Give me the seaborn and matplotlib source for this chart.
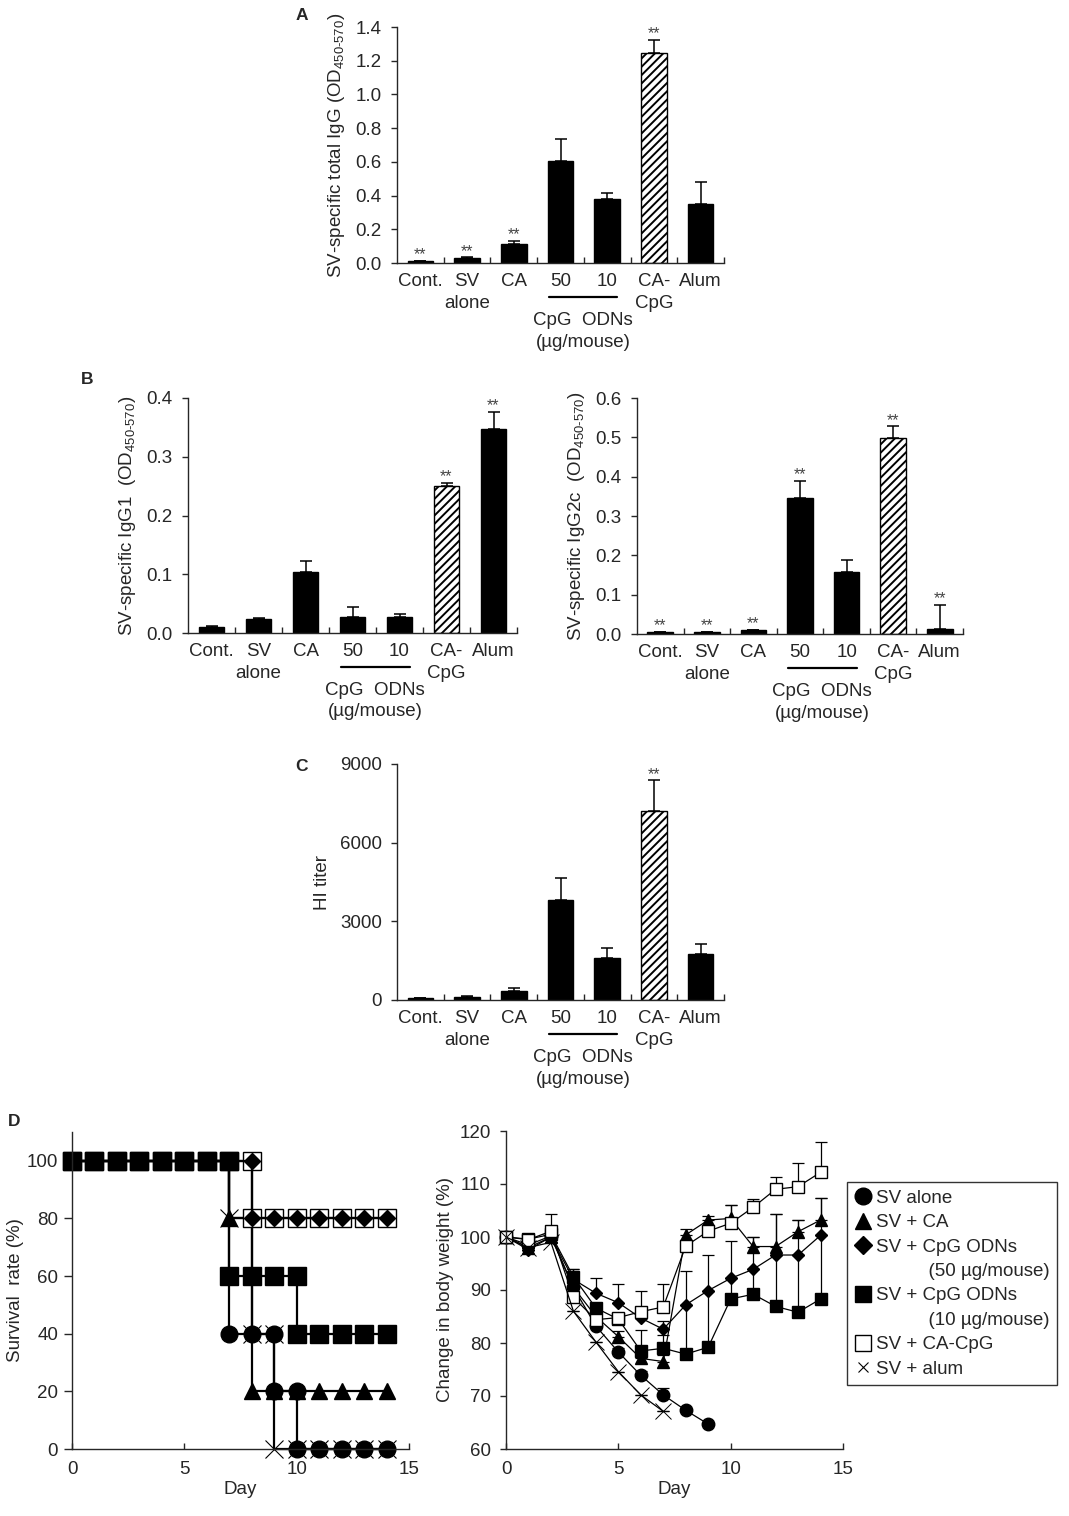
import numpy as np
import seaborn as sns
import matplotlib.pyplot as plt
from matplotlib.lines import Line2D
from matplotlib.ticker import FormatStrFormatter, MultipleLocator

sns.set_style("ticks")
plt.rcParams['font.family'] = ['Liberation Sans', 'DejaVu Sans']
plt.rcParams['mathtext.fontset'] = 'custom'
plt.rcParams['mathtext.rm'] = 'Liberation Sans'
plt.rcParams['hatch.linewidth'] = 1.4
plt.rcParams['axes.linewidth'] = 1.0
FS = 13.5

# ---- bar panels (A, B, C) ----
groups = ["Cont.", "SV\nalone", "CA", "50", "10", "CA-\nCpG", "Alum"]

igg_total = [0.01, 0.03, 0.115, 0.605, 0.38, 1.248, 0.352]
igg_total_err = [0.003, 0.003, 0.018, 0.128, 0.037, 0.077, 0.126]
igg_total_sig = [1, 1, 1, 0, 0, 1, 0]

igg1 = [0.010, 0.024, 0.104, 0.028, 0.028, 0.251, 0.347]
igg1_err = [0.002, 0.002, 0.019, 0.016, 0.005, 0.004, 0.029]
igg1_sig = [0, 0, 0, 0, 0, 1, 1]

igg2c = [0.006, 0.006, 0.010, 0.345, 0.158, 0.498, 0.012]
igg2c_err = [0.0, 0.0, 0.0, 0.045, 0.030, 0.030, 0.062]
igg2c_sig = [1, 1, 1, 1, 0, 1, 1]

hi_titer = [60, 120, 356, 3820, 1590, 7190, 1770]
hi_err = [10, 45, 114, 840, 408, 1186, 357]
hi_sig = [0, 0, 0, 0, 0, 1, 0]

# ---- survival (D left), step points as plotted ----
surv_sv_days = [0, 1, 2, 3, 4, 5, 6, 7, 7, 8, 9, 9, 10, 10, 11, 12, 13, 14]
surv_sv = [100, 100, 100, 100, 100, 100, 100, 100, 40, 40, 40, 20, 20, 0, 0, 0, 0, 0]
surv_ca_days = [0, 1, 2, 3, 4, 5, 6, 7, 7, 8, 8, 9, 10, 11, 12, 13, 14]
surv_ca = [100, 100, 100, 100, 100, 100, 100, 100, 80, 80, 20, 20, 20, 20, 20, 20, 20]
surv_cpg50_days = [0, 1, 2, 3, 4, 5, 6, 7, 8, 8, 9, 10, 11, 12, 13, 14]
surv_cpg50 = [100, 100, 100, 100, 100, 100, 100, 100, 100, 80, 80, 80, 80, 80, 80, 80]
surv_cpg10_days = [0, 1, 2, 3, 4, 5, 6, 7, 7, 8, 9, 10, 10, 11, 12, 13, 14]
surv_cpg10 = [100, 100, 100, 100, 100, 100, 100, 100, 60, 60, 60, 60, 40, 40, 40, 40, 40]
surv_cacpg_days = [0, 1, 2, 3, 4, 5, 6, 7, 8, 8, 9, 10, 11, 12, 13, 14]
surv_cacpg = [100, 100, 100, 100, 100, 100, 100, 100, 100, 80, 80, 80, 80, 80, 80, 80]
surv_alum_days = [0, 1, 2, 3, 4, 5, 6, 7, 7, 8, 8, 9, 9, 10, 11, 12, 13, 14]
surv_alum = [100, 100, 100, 100, 100, 100, 100, 100, 80, 80, 40, 40, 0, 0, 0, 0, 0, 0]

# ---- body weight (D right) ----
days_sv = [0, 1, 2, 3, 4, 5, 6, 7, 8, 9]
days_all = [0, 1, 2, 3, 4, 5, 6, 7, 8, 9, 10, 11, 12, 13, 14]
days_alum = [0, 1, 2, 3, 4, 5, 6, 7]
wt_sv = [100, 98.5, 100.2, 90.5, 83.2, 78.3, 73.9, 70.2, 67.3, 64.7]
wt_sv_err = [0, 0, 0, 1.0, 0, 0.8, 0.8, 1.4, 0, 0]
wt_ca = [100, 98, 100, 90.5, 85, 81.2, 77.1, 76.5, 100.4, 103.2, 103.5, 98.2, 98.2, 101, 103.2]
wt_ca_err = [0, 0, 0, 1, 1, 1, 1.2, 1.2, 1.2, 0.8, 2.5, 1.8, 6.1, 2.2, 4.2]
wt_cpg50 = [100, 97.6, 100, 92, 89.4, 87.6, 84.7, 82.6, 87.2, 89.9, 92.2, 93.9, 96.6, 96.6, 100.3]
wt_cpg50_err = [0, 0, 0, 2, 2.8, 3.5, 1.5, 1.5, 0, 0, 0, 0, 0, 0, 0]
wt_cpg10 = [100, 99.6, 100.5, 92.5, 86.6, 84.5, 78.5, 79, 77.9, 79.2, 88.3, 89.2, 86.9, 85.8, 88.3]
wt_cpg10_err = [0, 0, 0, 1.5, 0, 0, 4, 2.5, 15.7, 17.4, 11, 10.8, 17.4, 17.4, 19]
wt_cacpg = [100, 99.5, 101.1, 88.6, 84.4, 84.8, 85.9, 86.8, 98.3, 101.1, 102.6, 105.6, 109, 109.5, 112.2]
wt_cacpg_err = [0, 0, 3.2, 0, 0, 0, 3.9, 4.3, 1.2, 0, 3.4, 1.6, 2.3, 4.5, 5.8]
wt_alum = [100, 98, 99, 86, 80.2, 74.6, 70.2, 67.1]

W, H = 1069, 1516
fig = plt.figure(figsize=(W / 100, H / 100), dpi=100)


def px_axes(left, right, top, bottom):
    return fig.add_axes([left / W, 1 - bottom / H, (right - left) / W, (bottom - top) / H])


def bar_panel(ax, vals, errs, sig, ymax, step, ylabel, fmt):
    sns.barplot(x=groups, y=vals, color='black', width=0.55, errorbar=None, ax=ax,
                edgecolor='black', linewidth=1, saturation=1)
    hb = ax.patches[5]
    hb.set_facecolor('white')
    hb.set_hatch('////')
    ax.errorbar(range(7), vals, yerr=[np.zeros(7), errs], fmt='none', ecolor='black',
                elinewidth=1.1, capsize=4, capthick=1.1)
    for i, (v, e, s) in enumerate(zip(vals, errs, sig)):
        if s:
            ax.annotate('**', (i, v + e), xytext=(0, -1), textcoords='offset points',
                        ha='center', va='bottom', fontsize=11.5, color='#444444')
    ax.set_xlim(-0.5, 6.5)
    ax.set_ylim(0, ymax)
    ax.yaxis.set_major_locator(MultipleLocator(step))
    ax.yaxis.set_major_formatter(FormatStrFormatter(fmt))
    ax.set_xticks(range(7))
    ax.set_xticklabels(groups, linespacing=1.37, fontsize=FS)
    ax.set_xticks(np.arange(0.5, 7, 1), minor=True)
    ax.tick_params(axis='x', which='major', length=0, pad=7)
    ax.tick_params(axis='x', which='minor', direction='in', length=4, width=1)
    ax.tick_params(axis='y', direction='out', length=4, width=1, labelsize=FS, pad=7)
    ax.set_xlabel('')
    ax.set_ylabel(ylabel, fontsize=FS, labelpad=6)
    sns.despine(ax=ax)
    tr = ax.get_xaxis_transform()
    ax.plot([2.75, 4.22], [-0.145, -0.145], transform=tr, color='black', lw=1.6, clip_on=False)
    ax.text(3.48, -0.245, 'CpG  ODNs', transform=tr, ha='center', va='center', fontsize=FS)
    ax.text(3.48, -0.335, '(µg/mouse)', transform=tr, ha='center', va='center', fontsize=FS)


sub = r'$_{\mathregular{450\text{-}570}}$'
axA = px_axes(397, 724, 27, 263)
bar_panel(axA, igg_total, igg_total_err, igg_total_sig, 1.4, 0.2,
          'SV-specific total IgG (OD' + sub + ')', '%.1f')
axB1 = px_axes(188, 517, 398, 633)
bar_panel(axB1, igg1, igg1_err, igg1_sig, 0.4, 0.1, 'SV-specific IgG1  (OD' + sub + ')', '%.1f')
axB2 = px_axes(637, 963, 398, 634)
bar_panel(axB2, igg2c, igg2c_err, igg2c_sig, 0.6, 0.1, 'SV-specific IgG2c  (OD' + sub + ')', '%.1f')
axC = px_axes(397, 724, 764, 1000)
bar_panel(axC, hi_titer, hi_err, hi_sig, 9000, 3000, 'HI titer', '%d')

# ---- survival ----
axS = px_axes(72, 409, 1132, 1449)
surv = [
    (surv_ca_days, surv_ca, '^', 'black', 12),
    (surv_sv_days, surv_sv, 'o', 'black', 12),
    (surv_alum_days, surv_alum, 'x', 'black', 13),
    (surv_cacpg_days, surv_cacpg, 's', 'white', 12.5),
    (surv_cpg50_days, surv_cpg50, 'D', 'black', 8),
    (surv_cpg10_days, surv_cpg10, 's', 'black', 12.5),
]
for d, v, mk, fc, ms in surv:
    sns.lineplot(x=d, y=v, estimator=None, sort=False, ax=axS, color='black', lw=1.6,
                 marker=mk, markersize=ms, markerfacecolor=fc, markeredgecolor='black',
                 markeredgewidth=1.0 if mk != 'x' else 0.8, clip_on=False)
axS.set_xlim(0, 15)
axS.set_ylim(0, 110)
axS.set_xticks([0, 5, 10, 15])
axS.set_yticks([0, 20, 40, 60, 80, 100])
axS.tick_params(axis='x', direction='in', length=4, width=1, labelsize=FS, pad=9)
axS.tick_params(axis='y', direction='out', length=6, width=1, labelsize=FS, pad=4)
axS.set_xlabel('Day', fontsize=FS, labelpad=2)
axS.set_ylabel('Survival  rate (%)', fontsize=FS, labelpad=2)
sns.despine(ax=axS)

# ---- body weight ----
axW = px_axes(506, 843, 1131, 1449)
wt = [
    (days_sv, wt_sv, wt_sv_err, 'o', 'black', 9),
    (days_all, wt_ca, wt_ca_err, '^', 'black', 9),
    (days_all, wt_cpg50, wt_cpg50_err, 'D', 'black', 6.5),
    (days_all, wt_cpg10, wt_cpg10_err, 's', 'black', 9),
    (days_all, wt_cacpg, wt_cacpg_err, 's', 'white', 9),
    (days_alum, wt_alum, [0] * len(wt_alum), 'x', 'black', 11),
]
for d, v, e, mk, fc, ms in wt:
    axW.errorbar(d, v, yerr=[np.zeros(len(e)), e], fmt='none', ecolor='black',
                 elinewidth=0.9, capsize=4, capthick=0.9, zorder=1.5)
    sns.lineplot(x=d, y=v, estimator=None, sort=False, ax=axW, color='black', lw=0.9,
                 marker=mk, markersize=ms, markerfacecolor=fc, markeredgecolor='black',
                 markeredgewidth=1.0 if mk != 'x' else 0.7, clip_on=False)
axW.set_xlim(0, 15)
axW.set_ylim(60, 120)
axW.set_xticks([0, 5, 10, 15])
axW.yaxis.set_major_locator(MultipleLocator(10))
axW.tick_params(axis='x', direction='in', length=4, width=1, labelsize=FS, pad=9)
axW.tick_params(axis='y', direction='out', length=4, width=1, labelsize=FS, pad=7)
axW.set_xlabel('Day', fontsize=FS, labelpad=2)
axW.set_ylabel('Change in body weight (%)', fontsize=FS, labelpad=4)
sns.despine(ax=axW)

blank = Line2D([], [], ls='none')
handles = [
    Line2D([], [], ls='none', marker='o', ms=12, color='black'),
    Line2D([], [], ls='none', marker='^', ms=12, color='black'),
    Line2D([], [], ls='none', marker='D', ms=9, color='black'),
    blank,
    Line2D([], [], ls='none', marker='s', ms=12, color='black'),
    blank,
    Line2D([], [], ls='none', marker='s', ms=12, mfc='white', mec='black'),
    Line2D([], [], ls='none', marker='x', ms=7, color='black', mew=0.8),
]
labels = ['SV alone', 'SV + CA', 'SV + CpG ODNs', '          (50 µg/mouse)',
          'SV + CpG ODNs', '          (10 µg/mouse)', 'SV + CA-CpG', 'SV + alum']
leg = fig.legend(handles, labels, loc='upper left', bbox_to_anchor=(847 / W, 1 - 1182 / H),
                 frameon=True, fancybox=False, edgecolor='black', handlelength=0.9,
                 handletextpad=0.25, borderpad=0.4, labelspacing=0.39, fontsize=FS,
                 borderaxespad=0)
leg.get_frame().set_linewidth(1.0)

for lab, x, y in [('A', 302, 15), ('B', 87, 380), ('C', 302, 767), ('D', 14, 1122)]:
    fig.text(x / W, 1 - y / H, lab, fontsize=12.5, fontweight='bold', ha='center', va='center')

fig.savefig('out.png', dpi=100)
